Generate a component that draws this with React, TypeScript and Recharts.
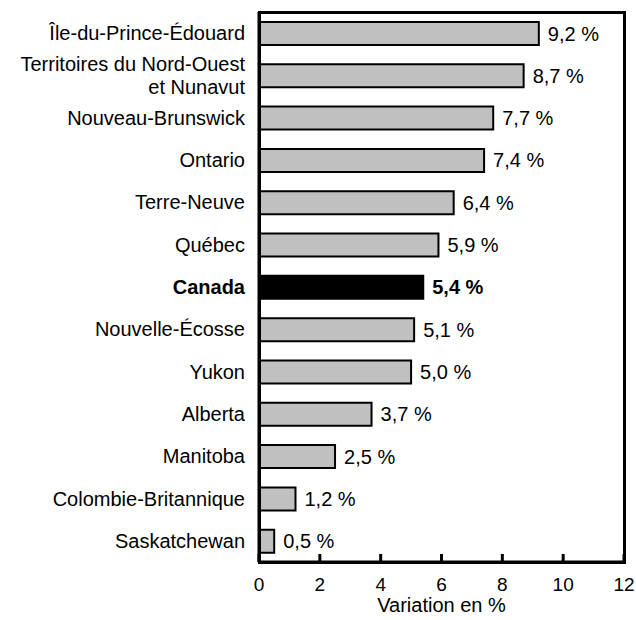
import React from 'react';
import { BarChart, Bar, XAxis, YAxis, Cell, LabelList } from 'recharts';

const categories = [
  'Île-du-Prince-Édouard',
  'Territoires du Nord-Ouest\net Nunavut',
  'Nouveau-Brunswick',
  'Ontario',
  'Terre-Neuve',
  'Québec',
  'Canada',
  'Nouvelle-Écosse',
  'Yukon',
  'Alberta',
  'Manitoba',
  'Colombie-Britannique',
  'Saskatchewan',
];
const values = [9.2, 8.7, 7.7, 7.4, 6.4, 5.9, 5.4, 5.1, 5.0, 3.7, 2.5, 1.2, 0.5];
const xTicks = [0, 2, 4, 6, 8, 10, 12];
const xMax = 12;
const highlight = 'Canada';
const axisTitle = 'Variation en %';

const data = categories.map((name, i) => ({ name, value: values[i] }));

const FONT = "'Liberation Sans', Arial, Helvetica, sans-serif";
const FS = 20;

const W = 636;
const H = 620;
const M = { top: 12, right: 12, left: 0, bottom: 0 };
const Y_AXIS_W = 259;
const X_AXIS_H = 58;

const fmt = (v: number) => v.toFixed(1).replace('.', ',') + ' %';

const YTick = (props: any) => {
  const { x, y, payload } = props;
  const lines = String(payload.value).split('\n');
  const bold = payload.value === highlight;
  const lh = 23;
  const start = -((lines.length - 1) * lh) / 2;
  return (
    <text
      x={x - 14}
      y={y}
      textAnchor="end"
      fontFamily={FONT}
      fontSize={FS}
      fontWeight={bold ? 'bold' : 'normal'}
      fill="#000"
    >
      {lines.map((l, i) => (
        <tspan key={i} x={x - 14} y={y + start + i * lh} dy="0.35em">
          {l}
        </tspan>
      ))}
    </text>
  );
};

const XTick = (props: any) => {
  const { x, y, payload } = props;
  return (
    <g>
      <line x1={x} x2={x} y1={y} y2={y - 8} stroke="#000" strokeWidth={3} />
      <text
        x={x}
        y={y + 22}
        dy="0.35em"
        textAnchor="middle"
        fontFamily={FONT}
        fontSize={19}
        fill="#000"
      >
        {payload.value}
      </text>
    </g>
  );
};

const ValueLabel = (props: any) => {
  const { x, y, width, height, value, index } = props;
  const bold = data[index]?.name === highlight;
  return (
    <text
      x={x + width + 9}
      y={y + height / 2}
      dy="0.35em"
      textAnchor="start"
      fontFamily={FONT}
      fontSize={FS}
      fontWeight={bold ? 'bold' : 'normal'}
      fill="#000"
    >
      {fmt(value)}
    </text>
  );
};

export default function App() {
  // plot-area frame derived from the same layout constants given to the chart
  const plotLeft = M.left + Y_AXIS_W;
  const plotTop = M.top;
  const plotRight = W - M.right;
  const plotBottom = H - M.bottom - X_AXIS_H;
  return (
    <div
      style={{
        position: 'fixed',
        left: 0,
        top: 0,
        width: W,
        height: H,
        overflow: 'hidden',
        background: '#fff',
      }}
    >
      <BarChart
        width={W}
        height={H}
        data={data}
        layout="vertical"
        margin={M}
        barSize={23}
      >
        <XAxis
          type="number"
          dataKey="value"
          domain={[0, xMax]}
          ticks={xTicks}
          interval={0}
          height={X_AXIS_H}
          tickSize={0}
          tickMargin={0}
          tickLine={false}
          axisLine={{ stroke: '#000', strokeWidth: 3 }}
          tick={<XTick />}
          label={{
            content: (p: any) => {
              const vb = p.viewBox;
              return (
                <text
                  x={vb.x + vb.width / 2}
                  y={vb.y + 43}
                  dy="0.35em"
                  textAnchor="middle"
                  fontFamily={FONT}
                  fontSize={FS}
                  fill="#000"
                >
                  {axisTitle}
                </text>
              );
            },
          }}
        />
        <YAxis
          type="category"
          dataKey="name"
          width={Y_AXIS_W}
          tickSize={0}
          tickMargin={0}
          tickLine={false}
          interval={0}
          axisLine={{ stroke: '#000', strokeWidth: 3 }}
          tick={<YTick />}
        />
        <Bar dataKey="value" stroke="#000" strokeWidth={2} isAnimationActive={false}>
          {data.map((d, i) => (
            <Cell key={i} fill={d.name === highlight ? '#000' : '#c0c0c0'} />
          ))}
          <LabelList dataKey="value" content={<ValueLabel />} />
        </Bar>
      </BarChart>
      <div
        style={{
          position: 'absolute',
          left: plotLeft - 1.5,
          top: plotTop - 1.5,
          width: plotRight - plotLeft + 3,
          height: plotBottom - plotTop + 3,
          border: '3px solid #000',
          boxSizing: 'border-box',
          pointerEvents: 'none',
        }}
      />
    </div>
  );
}
